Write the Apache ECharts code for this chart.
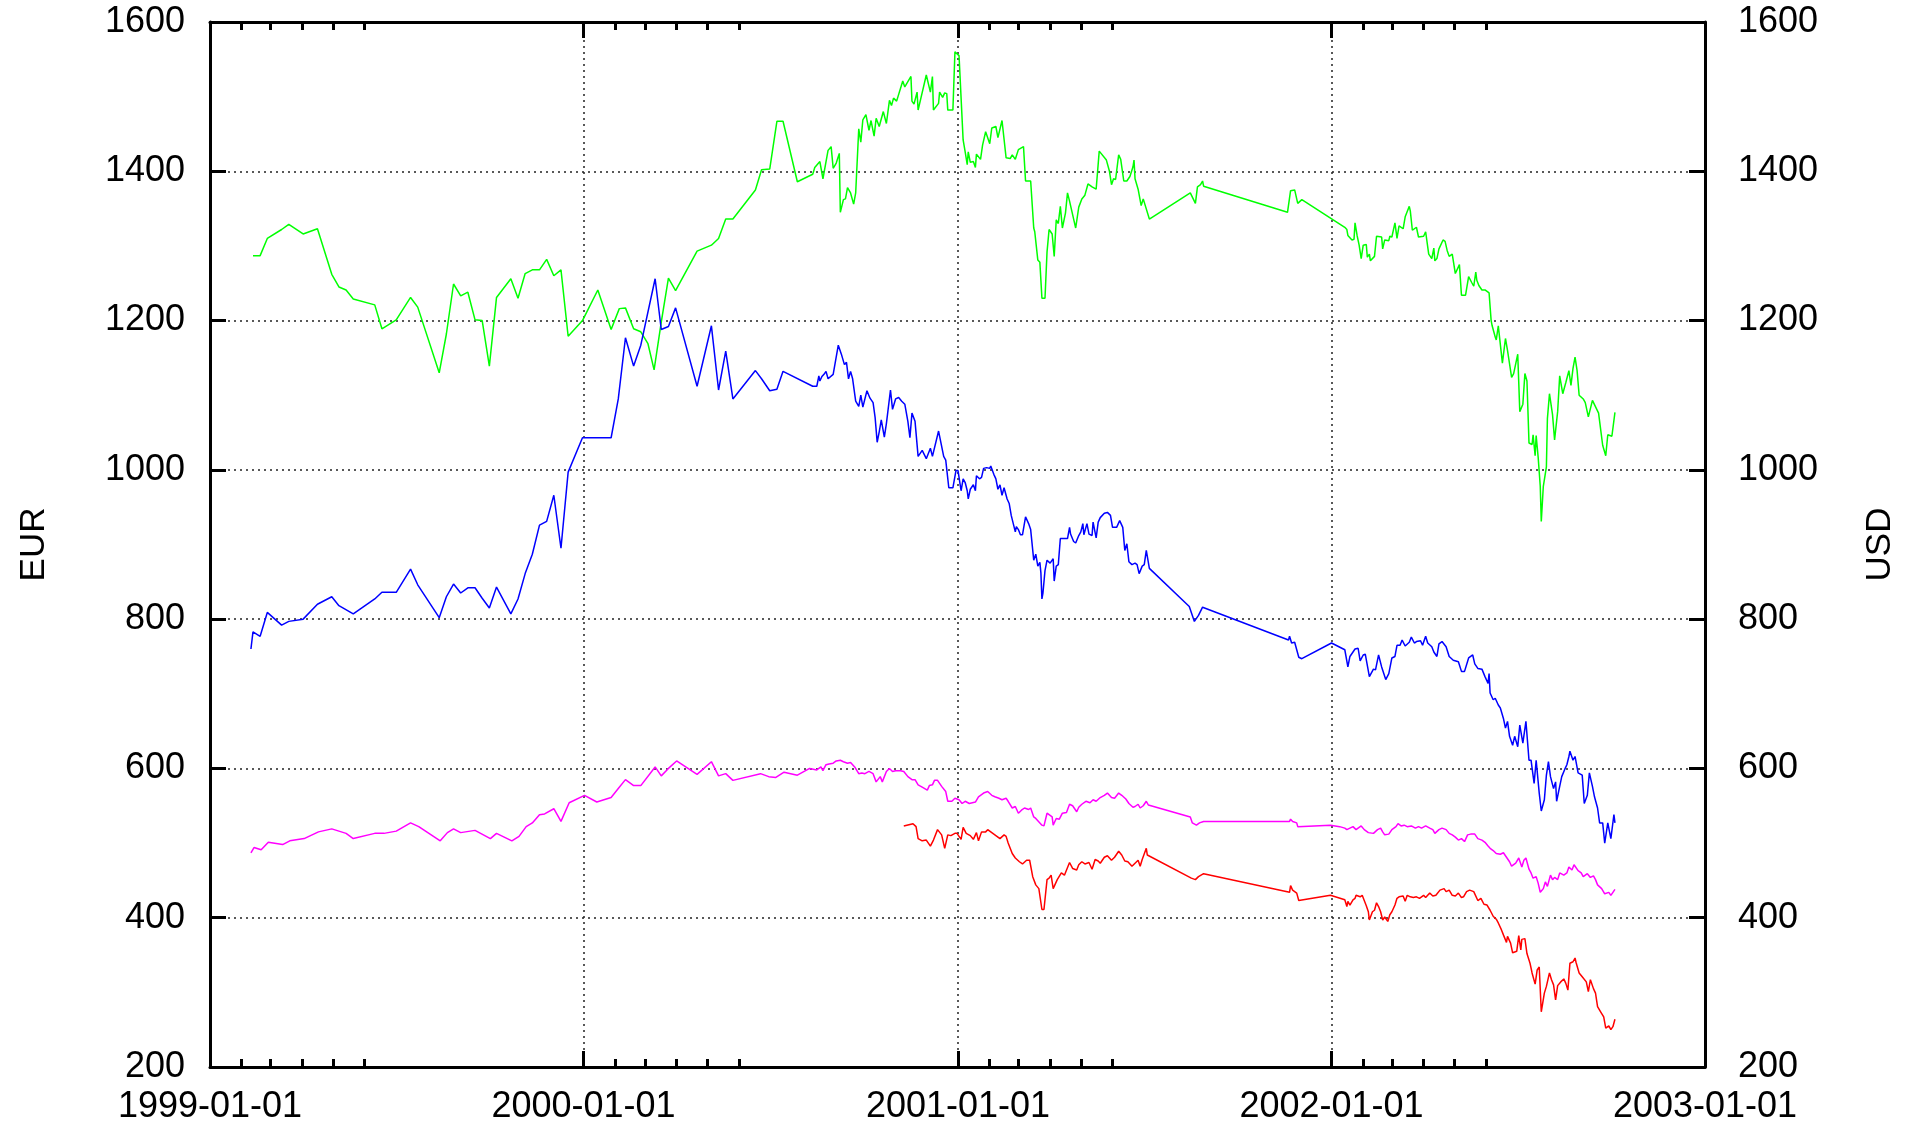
<!DOCTYPE html>
<html>
<head>
<meta charset="utf-8">
<title>EUR / USD</title>
<script src="https://cdn.jsdelivr.net/npm/echarts@6/dist/echarts.min.js"></script>
<style>
  html, body { margin: 0; padding: 0; background: #fff; }
  #main { width: 1915px; height: 1126px; }
</style>
</head>
<body>
<div id="main"></div>
<script>
// [days since 1999-01-01, value]
const greenPts = [
  [42,1287],[49,1287],[56,1310],[70,1322],[77,1329],[91,1316],[105,1323],[119,1262],[126,1245],[133,1241],[140,1229],
  [161,1221],[168,1189],[182,1201],[196,1231],[203,1218],[224,1130],[231,1182],[238,1249],[245,1233],[252,1238],
  [259,1201],[266,1200],[273,1139],[280,1231],[294,1256],[301,1230],[308,1263],[315,1268],[322,1268],[329,1282],
  [336,1260],[343,1268],[350,1179],[364,1200],
  [379,1241],[392,1188],[400,1216],[406,1217],[414,1189],[421,1185],[428,1169],[434,1134],[441,1198],[448,1257],
  [455,1240],[476,1293],[490,1301],[497,1310],[504,1336],[511,1336],[533,1375],[539,1402],[547,1403],[554,1467],
  [560,1467],[574,1386],[589,1396],[591,1405],[596,1413],[599,1390],[604,1428],[607,1433],[609,1404],[612,1411],
  [615,1424],[616,1345],[619,1362],[621,1363],[623,1378],[626,1371],[629,1356],[631,1371],[634,1457],[636,1439],
  [638,1469],[641,1476],[644,1455],[646,1468],[649,1447],[651,1471],[654,1460],[658,1480],[661,1464],[664,1495],
  [666,1488],[668,1498],[671,1494],[677,1521],[679,1513],[685,1527],[686,1494],[688,1490],[691,1506],[692,1482],
  [700,1529],[704,1506],[706,1527],[707,1482],[712,1491],[713,1506],[716,1499],[718,1505],[720,1504],[721,1482],
  [726,1482],[728,1560],[732,1555],[736,1442],[738,1426],
  [740,1409],[741,1426],[743,1412],[746,1413],[748,1405],[749,1423],[753,1416],[755,1435],[758,1453],[762,1437],
  [764,1458],[768,1460],[770,1445],[774,1468],[778,1418],[782,1417],[784,1422],[787,1416],[790,1429],[795,1433],
  [797,1387],[802,1387],[805,1324],[806,1319],[809,1281],[811,1278],[813,1230],[816,1230],[818,1292],[820,1322],
  [823,1316],[825,1286],[827,1335],[829,1330],[831,1353],[833,1324],[836,1344],[838,1371],[840,1360],[844,1336],
  [846,1324],[849,1352],[852,1363],[855,1368],[858,1383],[862,1379],[866,1376],[869,1427],[876,1415],[879,1400],
  [881,1382],[883,1390],[885,1389],[888,1422],[890,1416],[893,1387],[896,1387],[899,1393],[902,1406],[903,1415],
  [904,1390],[907,1376],[910,1354],[912,1363],[918,1336],[958,1371],[963,1357],[965,1379],[968,1382],[970,1387],
  [971,1380],[1053,1345],[1056,1374],[1060,1375],[1063,1357],[1067,1362],[1109,1325],
  [1111,1322],[1112,1314],[1116,1308],[1118,1309],[1119,1331],[1121,1314],[1123,1301],[1125,1283],[1127,1301],
  [1130,1302],[1131,1285],[1133,1289],[1134,1280],[1138,1286],[1140,1313],[1145,1312],[1146,1296],[1148,1308],
  [1152,1307],[1153,1313],[1155,1312],[1158,1331],[1160,1310],[1162,1327],[1166,1323],[1168,1339],[1170,1346],
  [1172,1353],[1173,1347],[1175,1321],[1179,1325],[1181,1312],[1186,1313],[1188,1319],[1191,1289],[1194,1283],
  [1196,1297],[1197,1280],[1199,1283],[1201,1296],[1205,1308],[1207,1306],[1209,1294],[1211,1286],[1214,1289],
  [1217,1263],[1221,1275],[1223,1234],[1227,1234],[1230,1259],[1231,1259],[1233,1251],[1235,1246],[1237,1265],
  [1238,1254],[1240,1247],[1243,1241],[1246,1241],[1250,1237],[1252,1200],[1253,1193],[1256,1178],[1257,1174],
  [1259,1193],[1263,1143],[1266,1176],[1268,1160],[1272,1124],[1274,1129],[1278,1155],[1280,1078],[1283,1088],
  [1285,1129],[1287,1119],[1289,1036],[1292,1034],[1293,1047],[1295,1019],[1296,1046],[1298,1016],[1300,978],
  [1301,931],[1303,978],[1306,1004],[1307,1069],[1309,1102],[1312,1074],[1314,1040],[1317,1078],[1319,1126],
  [1322,1102],[1325,1117],[1328,1133],[1330,1113],[1332,1136],[1334,1151],[1336,1133],[1338,1100],[1342,1095],
  [1344,1090],[1347,1071],[1351,1093],[1357,1076],[1361,1033],[1362,1035],[1364,1019],[1366,1047],[1370,1045],
  [1373,1077]
];

const bluePts = [
  [40,760],[42,783],[49,777],[56,809],[70,792],[77,797],[91,800],[105,820],[119,830],[126,818],[140,807],[161,827],
  [168,836],[182,836],[196,867],[203,846],[224,802],[231,830],[238,847],[245,835],[252,842],[259,842],[266,828],
  [273,815],[280,843],[294,807],[301,827],[308,861],[315,887],[322,926],[329,931],[336,966],[343,895],[350,997],
  [364,1043],
  [392,1043],[399,1095],[406,1177],[414,1139],[421,1167],[435,1256],[441,1188],[448,1192],[455,1217],[476,1112],
  [490,1193],[497,1107],[504,1159],[511,1095],[533,1133],[539,1122],[547,1106],[554,1108],[560,1132],[589,1112],
  [593,1112],[595,1126],[596,1119],[598,1125],[600,1128],[602,1132],[604,1122],[609,1128],[614,1167],[617,1155],
  [620,1141],[622,1144],[624,1122],[626,1132],[628,1122],[631,1092],[634,1085],[636,1100],[638,1084],[642,1106],
  [645,1096],[648,1090],[650,1070],[652,1037],[654,1051],[656,1067],[659,1044],[661,1062],[665,1107],[667,1081],
  [670,1095],[673,1097],[676,1092],[679,1088],[682,1065],[684,1043],[686,1076],[689,1065],[692,1018],[696,1026],
  [700,1015],[704,1029],[706,1018],[712,1052],[717,1018],[719,1013],[722,976],[726,976],[729,999],[731,999],
  [734,972],[736,988],
  [738,983],[740,972],[741,961],[743,974],[746,980],[748,972],[749,992],[752,988],[754,990],[756,1002],[759,1003],
  [762,1002],[763,1005],[766,994],[768,988],[770,974],[772,980],[774,966],[776,976],[779,961],[781,955],[783,939],
  [785,928],[787,917],[788,924],[790,920],[792,913],[794,913],[797,937],[800,928],[802,920],[805,879],[807,887],
  [809,871],[811,876],[812,862],[813,827],[814,835],[816,865],[818,879],[821,875],[824,881],[825,851],[827,871],
  [829,873],[831,908],[836,908],[838,908],[840,923],[841,914],[844,904],[846,902],[849,912],[851,917],[853,928],
  [854,913],[857,928],[859,914],[862,912],[863,930],[866,909],[868,930],[870,936],[874,942],[877,943],[880,939],
  [882,923],[886,923],[889,932],[892,923],[894,892],[896,901],[898,877],[901,873],[904,875],[906,873],[908,861],
  [911,871],[913,873],[915,892],[918,868],[957,817],[962,797],[966,805],[970,816],[1054,772],[1055,777],[1057,768],
  [1060,769],[1064,749],[1067,747],[1096,768],
  [1109,759],[1112,736],[1114,750],[1119,760],[1122,761],[1124,744],[1127,752],[1129,753],[1133,723],[1137,733],
  [1139,732],[1142,752],[1145,736],[1149,719],[1152,727],[1155,748],[1158,750],[1160,765],[1163,765],[1165,772],
  [1168,764],[1172,769],[1174,776],[1177,768],[1179,770],[1183,771],[1185,765],[1188,777],[1190,768],[1194,763],
  [1196,756],[1199,750],[1201,767],[1204,770],[1208,763],[1211,750],[1215,745],[1220,743],[1223,730],[1226,730],
  [1230,748],[1234,752],[1236,740],[1239,734],[1243,733],[1246,723],[1249,714],[1250,727],[1251,701],[1254,692],
  [1256,694],[1259,685],[1261,681],[1264,667],[1266,654],[1268,663],[1270,643],[1273,631],[1275,643],[1278,629],
  [1280,658],[1283,634],[1286,663],[1289,611],[1291,611],[1294,580],[1296,611],[1299,567],[1301,543],[1304,558],
  [1306,591],[1308,609],[1310,589],[1313,573],[1315,582],[1316,556],[1319,576],[1321,589],[1324,599],[1326,605],
  [1328,616],[1329,623],[1332,611],[1334,616],[1337,594],[1341,591],[1343,553],[1346,564],[1348,594],[1351,576],
  [1353,562],[1356,547],[1358,527],[1361,527],[1363,500],[1366,527],[1369,506],[1372,538],[1373,527]
];

const magentaPts = [
  [40,487],[43,494],[50,491],[57,501],[71,498],[78,503],[92,506],[106,515],[119,519],[133,513],[140,506],[161,513],
  [170,513],[182,516],[196,527],[204,522],[225,503],[232,514],[238,519],[245,514],[259,517],[274,506],[280,513],
  [295,503],[302,509],[309,522],[315,527],[322,538],[327,539],[336,546],[343,529],[351,554],[366,564],[378,555],
  [392,561],[399,573],[406,585],[414,577],[421,577],[435,602],[441,590],[448,600],[456,610],[476,592],[490,609],
  [497,590],[504,593],[511,584],[538,593],[546,589],[553,588],[561,595],[574,591],[586,600],[593,598],[597,602],
  [599,597],[602,605],[605,606],[609,607],[612,610],[616,611],[619,609],[623,607],[626,608],[630,602],[634,593],
  [637,594],[640,593],[644,596],[648,593],[651,582],[655,589],[657,582],[661,596],[664,600],[667,596],[670,597],
  [675,597],[678,596],[682,589],[686,585],[689,585],[692,578],[696,575],[701,571],[703,577],[706,578],[708,584],
  [711,584],[715,576],[719,569],[721,556],[725,556],[728,560],[732,558],[735,553],
  [738,556],[742,553],[748,555],[751,562],[756,567],[760,569],[764,564],[767,562],[771,560],[774,558],[778,560],
  [780,556],[784,547],[787,549],[790,540],[793,544],[796,547],[800,545],[802,547],[805,535],[807,533],[809,530],
  [813,524],[815,523],[818,540],[820,538],[823,535],[824,524],[827,533],[830,532],[833,540],[837,541],[840,552],
  [843,550],[847,542],[849,548],[852,552],[856,556],[860,554],[863,558],[866,556],[870,561],[874,564],[877,567],
  [881,561],[884,560],[888,567],[891,564],[895,559],[898,553],[902,548],[904,549],[907,552],[909,547],[912,550],
  [915,556],[917,551],[958,535],[960,527],[964,524],[967,527],[971,529],[1055,529],[1056,532],[1058,529],
  [1062,527],[1063,522],[1095,524],
  [1104,522],[1109,520],[1111,518],[1114,520],[1117,522],[1120,518],[1125,523],[1128,518],[1132,514],[1137,513],
  [1141,518],[1144,520],[1146,515],[1148,511],[1152,512],[1155,518],[1159,522],[1161,526],[1164,523],[1167,524],
  [1170,522],[1174,523],[1178,520],[1181,522],[1184,520],[1188,523],[1192,520],[1195,518],[1197,513],[1201,518],
  [1204,520],[1208,518],[1211,513],[1214,511],[1217,508],[1220,504],[1223,506],[1226,502],[1229,511],[1232,512],
  [1236,512],[1239,506],[1243,504],[1246,501],[1249,496],[1251,493],[1254,490],[1257,486],[1261,485],[1264,487],
  [1267,481],[1270,475],[1272,469],[1276,473],[1279,480],[1282,468],[1284,477],[1286,480],[1289,465],[1291,460],
  [1293,453],[1296,455],[1298,446],[1300,434],[1303,439],[1305,448],[1307,442],[1310,457],[1312,451],[1314,454],
  [1317,451],[1319,460],[1323,457],[1326,460],[1328,468],[1331,464],[1333,471],[1337,463],[1340,460],[1342,455],
  [1346,459],[1349,454],[1352,456],[1354,451],[1356,444],[1360,439],[1363,432],[1367,434],[1369,430],[1373,438]
];

const redPts = [
  [678,523],[687,526],[690,522],[692,506],[696,503],[700,504],[704,496],[707,504],[711,518],[715,511],[718,493],
  [721,511],[724,510],[728,513],[730,513],[734,505],[736,521],[739,513],[743,510],[746,505],[749,514],[751,503],
  [754,515],[758,515],[760,518],[763,515],[765,513],[768,510],[772,506],[776,511],[778,509],[780,500],[784,486],
  [787,480],[791,475],[794,472],[798,477],[801,477],[804,455],[807,444],[810,439],[813,411],[815,411],[818,451],
  [820,453],[822,457],[824,439],[828,451],[832,460],[835,457],[840,474],[843,466],[847,464],[849,471],[852,475],
  [855,472],[859,474],[862,465],[865,478],[868,476],[870,473],[874,481],[877,483],[881,477],[884,481],[888,489],
  [891,484],[894,476],[897,475],[901,469],[904,473],[907,477],[909,469],[911,478],[915,493],[916,484],[959,453],
  [963,451],[966,455],[971,459],[1055,434],[1056,443],[1058,437],[1062,433],[1064,423],[1095,430],
  [1109,424],[1111,415],[1112,422],[1114,417],[1117,424],[1119,426],[1120,430],[1124,428],[1126,430],[1130,416],
  [1132,408],[1133,397],[1136,408],[1138,410],[1140,420],[1142,415],[1144,408],[1146,397],[1148,401],[1151,395],
  [1153,404],[1155,408],[1158,417],[1160,426],[1162,428],[1166,429],[1168,422],[1170,430],[1173,428],[1176,427],
  [1179,428],[1182,426],[1186,430],[1188,427],[1192,433],[1195,429],[1198,430],[1202,437],[1206,439],[1208,435],
  [1211,437],[1214,430],[1217,429],[1220,433],[1223,427],[1225,428],[1228,435],[1231,437],[1235,435],[1239,423],
  [1242,426],[1245,418],[1248,417],[1251,410],[1254,402],[1257,398],[1259,393],[1262,384],[1264,377],[1267,367],
  [1268,375],[1271,366],[1273,353],[1277,355],[1279,376],[1281,357],[1282,371],[1285,372],[1287,352],[1290,339],
  [1292,326],[1295,311],[1297,330],[1299,334],[1301,274],[1304,299],[1306,308],[1309,326],[1311,317],[1313,310],
  [1315,290],[1317,309],[1320,314],[1323,318],[1325,312],[1327,303],[1329,339],[1332,341],[1334,346],[1335,340],
  [1338,326],[1341,321],[1345,314],[1347,301],[1349,317],[1352,305],[1354,299],[1356,281],[1359,274],[1362,267],
  [1364,252],[1367,255],[1369,250],[1371,254],[1373,264]
];

const yearTicks = ['1999-01-01', '2000-01-01', '2001-01-01', '2002-01-01', '2003-01-01'];
const monthTicks = [
  '1999-02-01', '1999-03-01', '1999-04-01', '1999-05-01', '1999-06-01',
  '2000-02-01', '2000-03-01', '2000-04-01', '2000-05-01', '2000-06-01',
  '2001-02-01', '2001-03-01', '2001-04-01', '2001-05-01', '2001-06-01',
  '2002-02-01', '2002-03-01', '2002-04-01', '2002-05-01', '2002-06-01'
];
const yMin = 200, yMax = 1600, yStep = 200;

const T0 = Date.parse('1999-01-01');
const DAY = 86400000;
const toTime = pts => pts.map(p => [T0 + p[0] * DAY, p[1]]);
const years = yearTicks.map(d => Date.parse(d));
const months = monthTicks.map(d => Date.parse(d));

const FONT = "'Liberation Sans', Arial, sans-serif";
const axisBlack = { color: '#000', width: 3 };
const gridDots = { show: true, lineStyle: { color: '#222', width: 1.5, type: [2, 4] } };

// x is a plain value axis holding timestamps, ticks placed by customValues
function xAxisOf(pos, ticks, len, main) {
  return {
    type: 'value',
    position: pos,
    min: years[0],
    max: years[years.length - 1],
    axisLine: { show: main, lineStyle: axisBlack },
    axisTick: { show: true, inside: true, length: len, customValues: ticks, lineStyle: { color: '#000', width: 3 } },
    axisLabel: {
      show: main && pos === 'bottom',
      customValues: ticks,
      margin: 22,
      fontSize: 36,
      fontFamily: FONT,
      color: '#000',
      formatter: v => new Date(v).toISOString().slice(0, 10)
    },
    splitLine: main && pos === 'bottom' ? gridDots : { show: false }
  };
}

function yAxisOf(pos, name, margin, grid) {
  return {
    type: 'value',
    position: pos,
    min: yMin,
    max: yMax,
    interval: yStep,
    name: name,
    nameLocation: 'middle',
    nameRotate: 90,
    nameGap: 158,
    nameTextStyle: { fontSize: 35, fontFamily: FONT, color: '#000' },
    axisLine: { show: true, lineStyle: axisBlack },
    axisTick: { show: true, inside: true, length: 16, lineStyle: { color: '#000', width: 3 } },
    axisLabel: { margin: margin, fontSize: 36, fontFamily: FONT, color: '#000', formatter: v => String(v) },
    splitLine: grid ? gridDots : { show: false }
  };
}

function lineOf(pts, color, yIdx) {
  return {
    type: 'line',
    yAxisIndex: yIdx,
    data: toTime(pts),
    showSymbol: false,
    lineStyle: { color: color, width: 1.5 },
    itemStyle: { color: color }
  };
}

const chart = echarts.init(document.getElementById('main'), null, { renderer: 'canvas' });
chart.setOption({
  animation: false,
  backgroundColor: '#fff',
  grid: { left: 210, right: 210, top: 22, bottom: 59, containLabel: false },
  xAxis: [
    xAxisOf('bottom', years, 16, true),
    xAxisOf('bottom', months, 8, false),
    xAxisOf('top', years, 16, true),
    xAxisOf('top', months, 8, false)
  ],
  yAxis: [
    yAxisOf('left', 'EUR', 25, true),
    yAxisOf('right', 'USD', 33, false)
  ],
  series: [
    lineOf(greenPts, '#00ff00', 0),
    lineOf(bluePts, '#0000ff', 0),
    lineOf(magentaPts, '#ff00ff', 1),
    lineOf(redPts, '#ff0000', 1)
  ]
});
</script>
</body>
</html>
